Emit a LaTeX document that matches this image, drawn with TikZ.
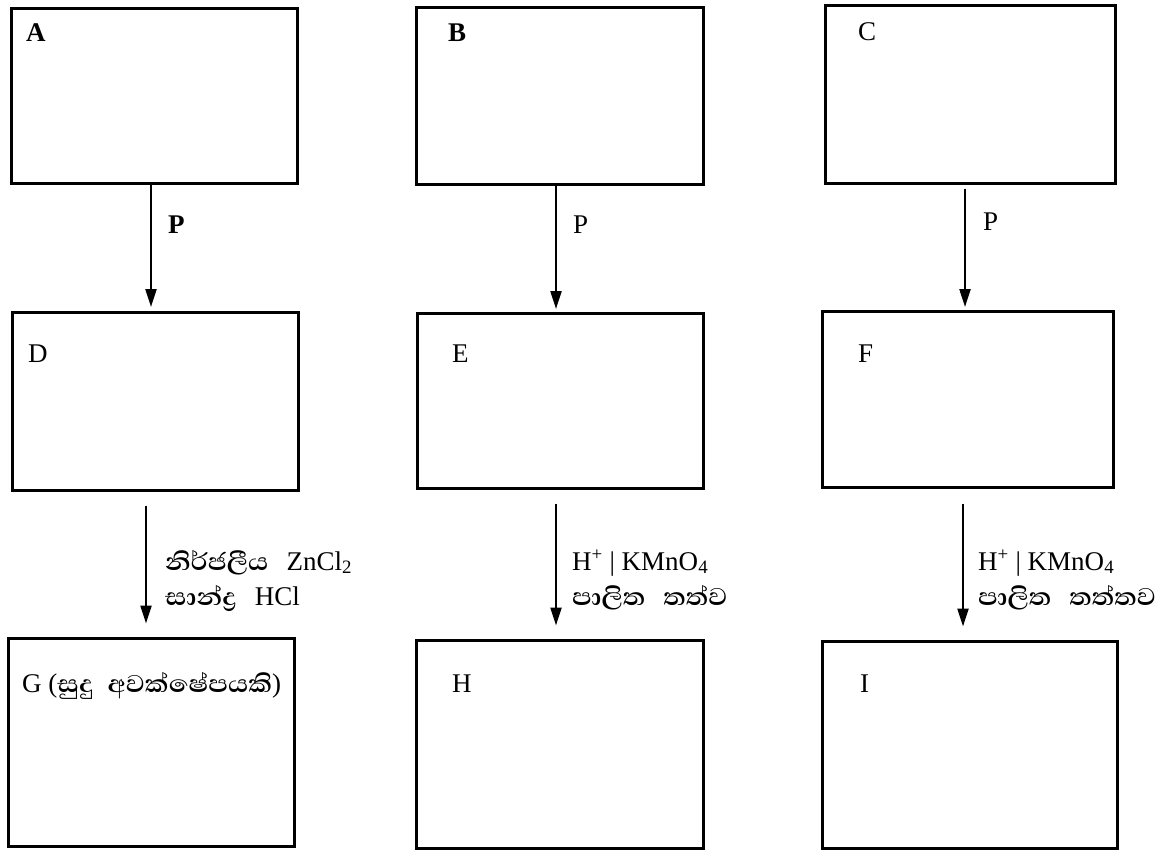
\documentclass[tikz,border=0pt]{standalone}
\usepackage{fontspec}
\setmainfont{Liberation Serif}
\newfontfamily\sinhfont[Script=Sinhala,FakeStretch=1.08]{Abhaya Libre}
\usetikzlibrary{arrows.meta}
\newcommand{\sitext}[1]{{\fontsize{31}{36}\sinhfont\bfseries #1}}
\begin{document}
\begin{tikzpicture}[x=1pt,y=-1pt,
  box/.style={draw, line width=3pt, inner sep=0pt},
  lab/.style={anchor=base west, inner sep=0pt, font=\fontsize{27}{32}\selectfont},
  arr/.style={-{Triangle[length=18pt,width=11pt]}, line width=2.2pt}]
\useasboundingbox (0,0) rectangle (1168,855);
% boxes
\node[box, minimum width=286pt, minimum height=175pt] (A) at (154,95.5) {};
\node[box, minimum width=287pt, minimum height=177pt] (B) at (559.5,95.5) {};
\node[box, minimum width=290pt, minimum height=178pt] (C) at (970,94) {};
\node[box, minimum width=286pt, minimum height=178pt] (D) at (155,401) {};
\node[box, minimum width=286pt, minimum height=175pt] (E) at (560,400.5) {};
\node[box, minimum width=291pt, minimum height=176pt] (F) at (967.5,399) {};
\node[box, minimum width=286pt, minimum height=208pt] (G) at (151,742) {};
\node[box, minimum width=287pt, minimum height=208pt] (H) at (559.5,744) {};
\node[box, minimum width=295pt, minimum height=207pt] (I) at (969.5,744.5) {};
% box labels
\node[lab] (lA) at (26,41) {\textbf{A}};
\node[lab] (lB) at (448,41) {\textbf{B}};
\node[lab] (lC) at (858,40) {C};
\node[lab] (lD) at (28,362) {D};
\node[lab] (lE) at (452,362) {E};
\node[lab] (lF) at (858,362) {F};
\node[lab] (lG) at (22,692) {G (\sitext{සුදු\hspace{14pt}අවක්ෂේපයකි})};
\node[lab] (lH) at (452,692) {H};
\node[lab] (lI) at (860,692) {I};
% arrows row 1
\draw[arr] ([xshift=-3pt]A.south) -- ([xshift=-4pt]D.north |- 0,307);
\draw[arr] ([xshift=-3.5pt]B.south) -- ([xshift=-4pt]E.north |- 0,309);
\draw[arr] ([xshift=-5pt,yshift=-4pt]C.south) -- ([xshift=-2.5pt]F.north |- 0,307);
\node[lab] (pA) at (168,233) {\textbf{P}};
\node[lab] (pB) at (573,233) {P};
\node[lab] (pC) at (983,230) {P};
% arrows row 2
\draw[arr] ([xshift=-9pt,yshift=-14pt]D.south) -- ([xshift=-5pt,yshift=13pt]G.north);
\draw[arr] ([xshift=-4pt,yshift=-14pt]E.south) -- ([xshift=-3.5pt,yshift=13pt]H.north);
\draw[arr] ([xshift=-4.5pt,yshift=-15pt]F.south) -- ([xshift=-6.5pt,yshift=13pt]I.north);
% conditions
\node[lab] (cD1) at (165,570) {\sitext{නිර්ජලීය}\hspace{18pt}ZnCl\textsubscript{2}};
\node[lab] (cD2) at (165,605) {\sitext{සාන්ද්‍ර}\hspace{18pt}HCl};
\node[lab] (cE1) at (572,570) {H\textsuperscript{+} | KMnO\textsubscript{4}};
\node[lab] (cE2) at (572,605) {\sitext{පාලිත\hspace{18pt}තත්ව}};
\node[lab] (cF1) at (978,570) {H\textsuperscript{+} | KMnO\textsubscript{4}};
\node[lab] (cF2) at (978,605) {\sitext{පාලිත\hspace{18pt}තත්තව}};
\end{tikzpicture}
\end{document}
